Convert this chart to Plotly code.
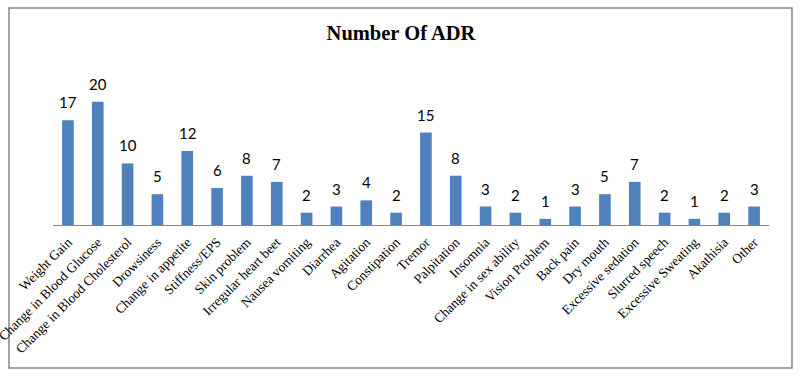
import plotly.graph_objects as go

categories = ["Weight Gain", "Change in Blood Glucose", "Change in Blood Cholesterol", "Drowsiness",
              "Change in appetite", "Stiffness/EPS", "Skin problem", "Irregular heart beet",
              "Nausea vomiting", "Diarrhea", "Agitation", "Constipation", "Tremor", "Palpitation",
              "Insomnia", "Change in sex ability", "Vision Problem", "Back pain", "Dry mouth",
              "Excessive sedation", "Slurred speech", "Excessive Sweating", "Akathisia", "Other"]
values = [17, 20, 10, 5, 12, 6, 8, 7, 2, 3, 4, 2, 15, 8, 3, 2, 1, 3, 5, 7, 2, 1, 2, 3]

W, H = 803, 378
L, R, T, B = 53, 769, 71, 225
pw, ph = R - L, B - T

fig = go.Figure()
fig.add_trace(go.Bar(x=categories, y=values, marker_color="#4F81BD", marker_line_width=0,
                     hoverinfo="x+y"))

for c, v in zip(categories, values):
    fig.add_annotation(x=c, y=v, text=str(v), showarrow=False, yanchor="bottom", yshift=7,
                       font=dict(family="Lato, Liberation Sans, sans-serif", size=15, color="#000000"))

# chart border
fig.add_shape(type="rect", xref="paper", yref="paper",
              x0=(9 - L) / pw, x1=(792 - L) / pw, y0=(B - 368) / ph, y1=(B - 8) / ph,
              line=dict(color="#868686", width=1.5), fillcolor="rgba(0,0,0,0)", layer="below")

fig.update_layout(
    width=W, height=H,
    margin=dict(l=L, r=W - R, t=T, b=H - B, pad=0, autoexpand=False),
    paper_bgcolor="white", plot_bgcolor="white",
    bargap=0.61,
    showlegend=False,
    title=dict(text="<b>Number Of ADR</b>", x=401 / W, xanchor="center", y=1 - 33 / H, yanchor="middle",
               font=dict(family="Liberation Serif, Times New Roman, serif", size=20.5, color="#000000")),
    xaxis=dict(showline=True, linecolor="#868686", linewidth=1, ticks="", tickangle=-45,
               showgrid=False, zeroline=False, automargin=False, ticklabelstandoff=3,
               tickfont=dict(family="Liberation Serif, Times New Roman, serif", size=13.5, color="#000000")),
    yaxis=dict(range=[0, 25], visible=False, showgrid=False, zeroline=False, automargin=False),
)

fig.write_html("out.html", config={"displayModeBar": False},
               post_script="document.body.style.margin='0';document.body.style.overflow='hidden';")
